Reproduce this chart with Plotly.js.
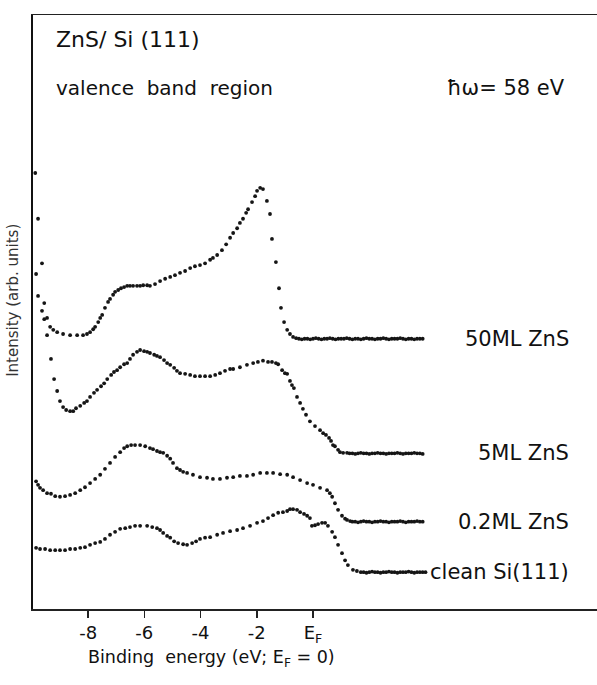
<!DOCTYPE html>
<html>
<head>
<meta charset="utf-8">
<script src="https://cdn.plot.ly/plotly-3.0.1.min.js"></script>
<style>
html,body{margin:0;padding:0;background:#fff;}
#chart{width:597px;height:685px;}
</style>
</head>
<body>
<div id="chart"></div>
<script>
// Binding energy (eV, E_F = 0) and intensity (arb. units)
const energy50ML = [-9.88,-9.78,-9.64,-9.56,-9.46,-9.35,-9.24,-9.10,-8.89,-8.64,-8.39,-8.18,-8.04,-7.93,-7.82,-7.75,-7.64,-7.57,-7.50,-7.40,-7.29,-7.22,-7.11,-7.04,-6.93,-6.83,-6.72,-6.61,-6.51,-6.40,-6.26,-6.15,-6.04,-5.90,-5.80,-5.62,-5.44,-5.26,-5.08,-4.91,-4.73,-4.55,-4.37,-4.20,-4.02,-3.84,-3.66,-3.56,-3.41,-3.24,-3.09,-2.95,-2.84,-2.70,-2.60,-2.49,-2.38,-2.31,-2.17,-2.06,-1.99,-1.88,-1.78,-1.64,-1.53,-1.46,-1.32,-1.21,-1.14,-1.03,-0.92,-0.82,-0.71,-0.60,
  -0.5,-0.4,-0.3,-0.2,-0.1,0,0.1,0.2,0.3,0.4,0.5,0.6,0.7,0.8,0.9,1.0,1.1,1.2,1.3,1.4,1.5,1.6,1.7,1.8,1.9,2.0,2.1,2.2,2.3,2.4,2.5,2.6,2.7,2.8,2.9,3.0,3.1,3.2,3.3,3.4,3.5,3.6,3.7,3.8,3.9];
const intensity50ML = [73.4,65.7,58.2,51.5,49.0,47.5,47.0,46.6,46.3,46.1,46.1,46.1,46.3,46.6,47.1,47.5,48.3,49.0,49.5,50.7,51.7,52.2,52.9,53.4,53.7,54.0,54.2,54.4,54.4,54.4,54.4,54.4,54.5,54.5,54.4,54.7,55.2,55.6,55.9,56.2,56.6,56.9,57.4,57.7,57.9,58.2,58.8,59.1,59.6,60.4,61.4,62.5,63.3,64.1,65.0,65.7,66.7,67.3,68.5,69.5,70.4,70.9,70.7,68.7,66.5,62.3,58.4,54.0,50.7,48.3,47.0,46.3,45.8,45.6,
  45.5,45.4,45.5,45.5,45.4,45.5,45.6,45.5,45.4,45.5,45.5,45.6,45.5,45.4,45.5,45.5,45.5,45.6,45.5,45.4,45.5,45.5,45.4,45.5,45.6,45.5,45.5,45.4,45.5,45.5,45.6,45.5,45.4,45.5,45.5,45.5,45.6,45.5,45.4,45.5,45.5,45.4,45.5,45.5,45.5];

const energy5ML = [-9.85,-9.78,-9.64,-9.56,-9.46,-9.32,-9.21,-9.10,-9.00,-8.89,-8.78,-8.64,-8.53,-8.43,-8.28,-8.14,-8.04,-7.93,-7.79,-7.68,-7.54,-7.43,-7.32,-7.18,-7.08,-6.97,-6.86,-6.72,-6.61,-6.51,-6.40,-6.26,-6.15,-6.01,-5.90,-5.80,-5.65,-5.55,-5.44,-5.30,-5.19,-5.08,-4.94,-4.84,-4.73,-4.55,-4.37,-4.20,-4.02,-3.84,-3.66,-3.48,-3.31,-3.13,-2.95,-2.84,-2.60,-2.35,-2.13,-1.96,-1.78,-1.60,-1.46,-1.32,-1.24,-1.10,-1.00,-0.92,-0.82,-0.75,-0.68,-0.57,-0.46,-0.36,-0.25,-0.11,0.07,0.25,0.36,0.46,0.57,0.64,0.71,0.78,0.89,0.96,1.07,1.21,
  1.3,1.4,1.5,1.6,1.7,1.8,1.9,2.0,2.1,2.2,2.3,2.4,2.5,2.6,2.7,2.8,2.9,3.0,3.1,3.2,3.3,3.4,3.5,3.6,3.7,3.8,3.9];
const intensity5ML = [56.4,52.7,50.2,48.8,46.1,42.1,38.7,36.7,35.0,34.0,33.5,33.3,33.3,33.8,34.2,34.7,35.0,35.7,36.4,36.9,37.5,38.0,38.7,39.4,39.9,40.2,40.7,41.2,41.4,42.1,42.8,43.3,43.6,43.4,43.3,43.1,42.8,42.6,42.4,41.9,41.4,41.1,40.6,40.1,39.7,39.6,39.4,39.2,39.2,39.2,39.2,39.4,39.7,40.1,40.4,40.4,40.7,41.1,41.4,41.6,41.8,41.6,41.6,41.4,41.2,40.2,39.7,39.6,38.4,37.7,37.2,35.7,34.7,33.7,32.7,31.6,30.8,30.1,29.6,29.3,28.8,28.3,27.6,27.4,26.8,26.4,26.3,26.3,
  26.2,26.2,26.1,26.2,26.3,26.2,26.2,26.1,26.2,26.2,26.3,26.2,26.2,26.1,26.2,26.2,26.2,26.3,26.2,26.1,26.2,26.2,26.2,26.3,26.2,26.2,26.1];

const energy02ML = [-9.85,-9.78,-9.71,-9.60,-9.46,-9.32,-9.17,-9.00,-8.82,-8.64,-8.46,-8.28,-8.11,-7.93,-7.75,-7.57,-7.40,-7.22,-7.04,-6.86,-6.72,-6.61,-6.47,-6.33,-6.15,-5.97,-5.80,-5.69,-5.55,-5.44,-5.33,-5.19,-5.08,-4.98,-4.84,-4.73,-4.62,-4.48,-4.27,-4.02,-3.77,-3.56,-3.31,-3.06,-2.84,-2.60,-2.35,-2.13,-1.88,-1.64,-1.42,-1.17,-0.92,-0.71,-0.46,-0.21,0.00,0.25,0.50,0.60,0.68,0.78,0.89,1.03,1.14,1.21,1.32,
  1.4,1.5,1.6,1.7,1.8,1.9,2.0,2.1,2.2,2.3,2.4,2.5,2.6,2.7,2.8,2.9,3.0,3.1,3.2,3.3,3.4,3.5,3.6,3.7,3.8,3.9];
const intensity02ML = [21.5,20.9,20.4,20.0,19.5,19.4,19.0,18.9,19.0,19.2,19.5,20.0,20.5,21.2,21.9,22.6,23.6,24.6,25.6,26.4,27.1,27.4,27.6,27.6,27.6,27.4,27.1,26.9,26.6,26.4,26.3,25.8,25.3,24.6,23.7,23.4,23.1,22.9,22.6,22.2,22.1,21.9,21.9,22.1,22.2,22.4,22.4,22.6,22.9,22.9,22.9,22.7,22.6,22.2,21.7,21.2,20.9,20.4,20.0,19.5,18.9,17.8,16.7,15.7,15.2,15.0,14.8,
  14.7,14.7,14.6,14.7,14.8,14.7,14.7,14.6,14.7,14.7,14.8,14.7,14.7,14.6,14.7,14.7,14.7,14.8,14.7,14.6,14.7,14.7,14.7,14.8,14.7,14.7];

const energySi = [-9.85,-9.71,-9.53,-9.35,-9.17,-9.00,-8.82,-8.64,-8.46,-8.28,-8.11,-7.93,-7.75,-7.57,-7.40,-7.22,-7.04,-6.86,-6.68,-6.51,-6.33,-6.15,-5.90,-5.72,-5.55,-5.44,-5.33,-5.19,-5.08,-4.94,-4.80,-4.62,-4.48,-4.30,-4.16,-4.02,-3.84,-3.66,-3.41,-3.20,-2.95,-2.70,-2.49,-2.24,-1.99,-1.78,-1.60,-1.42,-1.24,-1.07,-0.92,-0.82,-0.71,-0.57,-0.46,-0.32,-0.21,-0.11,-0.04,0.07,0.18,0.32,0.43,0.53,0.68,0.78,0.89,1.03,1.14,1.24,1.42,1.56,
  1.7,1.8,1.9,2.0,2.1,2.2,2.3,2.4,2.5,2.6,2.7,2.8,2.9,3.0,3.1,3.2,3.3,3.4,3.5,3.6,3.7,3.8,3.9,4.0];
const intensitySi = [10.3,10.1,10.1,9.9,9.9,9.9,9.9,10.1,10.1,10.3,10.4,10.8,11.1,11.3,11.8,12.5,13.0,13.5,13.6,13.8,14.0,14.0,14.0,13.8,13.6,13.3,12.8,12.3,12.0,11.4,11.1,10.9,10.8,11.1,11.4,11.8,12.0,12.1,12.5,12.8,13.1,13.3,13.6,14.0,14.5,14.8,15.3,15.8,16.2,16.3,16.5,16.8,16.8,16.7,16.3,16.0,15.7,15.3,14.0,14.1,14.3,14.5,14.5,14.0,13.0,12.1,10.8,9.4,8.2,7.4,6.6,6.4,
  6.2,6.2,6.1,6.2,6.3,6.2,6.2,6.1,6.2,6.2,6.3,6.2,6.2,6.1,6.2,6.2,6.2,6.3,6.2,6.1,6.2,6.2,6.2,6.2];

const tickValues = [-8,-6,-4,-2,0];
const tickLabels = ['-8','-6','-4','-2','E<sub>F</sub>'];
const seriesLabels = ['50ML ZnS','5ML ZnS','0.2ML ZnS','clean Si(111)'];
const seriesLabelLevels = [45.5, 26.2, 14.7, 6.2];

const FONT = 'DejaVu Sans, sans-serif';
const dotStyle = {size: 3.8, color: '#151515'};

const series = [
  [energy50ML, intensity50ML],
  [energy5ML, intensity5ML],
  [energy02ML, intensity02ML],
  [energySi, intensitySi]
];
const traces = series.map((s, i) => ({
  type: 'scatter', mode: 'markers', x: s[0], y: s[1],
  marker: dotStyle, name: seriesLabels[i], showlegend: false, hoverinfo: 'skip'
}));

const annotations = seriesLabels.map((t, i) => ({
  text: t, xref: 'x', yref: 'y', x: 9.17, y: seriesLabelLevels[i],
  xanchor: 'right', yanchor: 'middle', showarrow: false,
  font: {family: FONT, size: 21, color: '#111'}
}));
annotations.push(
  {text: 'ZnS/ Si (111)', xref: 'paper', yref: 'paper', x: 0.037, y: 0.958, xanchor: 'left', yanchor: 'middle', showarrow: false, font: {family: FONT, size: 22, color: '#111'}},
  {text: 'valence  band  region', xref: 'paper', yref: 'paper', x: 0.037, y: 0.877, xanchor: 'left', yanchor: 'middle', showarrow: false, font: {family: FONT, size: 20, color: '#111'}},
  {text: 'ħω= 58 eV', xref: 'paper', yref: 'paper', x: 0.947, y: 0.877, xanchor: 'right', yanchor: 'middle', showarrow: false, font: {family: FONT, size: 21, color: '#111'}},
  {text: 'Binding  energy (eV; E<sub>F</sub> = 0)', xref: 'paper', yref: 'paper', x: 0.316, y: -0.083, xanchor: 'center', yanchor: 'middle', showarrow: false, font: {family: FONT, size: 17.5, color: '#111'}},
  {text: 'Intensity (arb. units)', xref: 'paper', yref: 'paper', x: -0.036, y: 0.52, xanchor: 'center', yanchor: 'middle', textangle: -90, showarrow: false, font: {family: FONT, size: 15, color: '#333'}}
);

const layout = {
  width: 597, height: 685,
  margin: {l: 33, r: 0, t: 15, b: 76},
  paper_bgcolor: '#fff', plot_bgcolor: '#fff',
  xaxis: {
    range: [-9.96, 10.1], showgrid: false, zeroline: false,
    showline: true, mirror: true, linecolor: '#222', linewidth: 1.5,
    ticks: 'outside', ticklen: 7, tickwidth: 1.5, tickcolor: '#222',
    tickvals: tickValues, ticktext: tickLabels,
    tickfont: {family: FONT, size: 18, color: '#111'}
  },
  yaxis: {
    range: [0, 100], showgrid: false, zeroline: false,
    showline: true, mirror: false, linecolor: '#111', linewidth: 2.5,
    showticklabels: false, ticks: ''
  },
  annotations: annotations,
  showlegend: false
};

Plotly.newPlot('chart', traces, layout, {displayModeBar: false, staticPlot: true});
</script>
</body>
</html>
